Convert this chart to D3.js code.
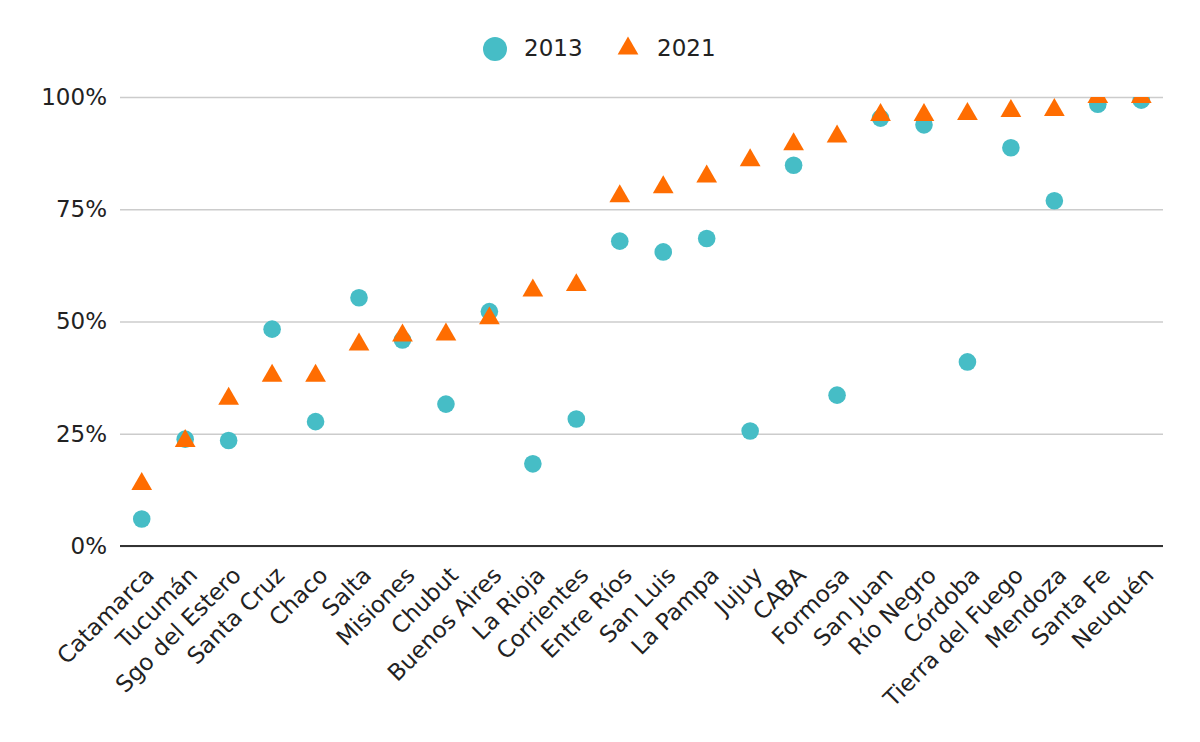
<!DOCTYPE html>
<html>
<head>
<meta charset="utf-8">
<script src="https://cdn.jsdelivr.net/npm/d3@7"></script>
<style>
    body { margin: 0; background: #fff; }
    svg text { font-family: "DejaVu Sans", Verdana, sans-serif; fill: #222; }
</style>
</head>
<body>
<div id="chart"></div>
<script>
const provinces = [
    'Catamarca', 'Tucumán', 'Sgo del Estero', 'Santa Cruz', 'Chaco', 'Salta',
    'Misiones', 'Chubut', 'Buenos Aires', 'La Rioja', 'Corrientes', 'Entre Ríos',
    'San Luis', 'La Pampa', 'Jujuy', 'CABA', 'Formosa', 'San Juan',
    'Río Negro', 'Córdoba', 'Tierra del Fuego', 'Mendoza', 'Santa Fe', 'Neuquén',
];
const values2013 = [
    0.060, 0.238, 0.235, 0.483, 0.277, 0.553,
    0.459, 0.316, 0.522, 0.183, 0.283, 0.679,
    0.655, 0.685, 0.256, 0.848, 0.336, 0.953,
    0.938, 0.410, 0.887, 0.769, 0.984, 0.993,
];
const values2021 = [
    0.138, 0.234, 0.328, 0.379, 0.379, 0.449,
    0.469, 0.471, 0.507, 0.569, 0.581, 0.779,
    0.799, 0.823, 0.859, 0.895, 0.912, 0.960,
    0.960, 0.962, 0.969, 0.971, 1.000, 1.000,
];
const yTicks = [0, 0.25, 0.5, 0.75, 1];
const seriesNames = ['2013', '2021'];

(function () {
    const colours = ['#46BDC6', '#FF6D01'];
    const [width, height] = [1200, 742];
    const [left, right, top, bottom] = [120, 1163, 97, 546];

    const svg = d3.select('#chart')
                  .append('svg')
                  .attr('width', width)
                  .attr('height', height);

    const x = d3.scaleBand()
                .domain(provinces)
                .range([left, right]);
    const y = d3.scaleLinear()
                .domain([0, 1])
                .range([bottom, top]);

    // gridlines + y labels
    const yAxis = svg.append('g')
       .attr('transform', `translate(${left}, 0)`)
       .call(d3.axisLeft(y)
               .tickValues(yTicks)
               .tickFormat(d3.format('.0%'))
               .tickSize(-(right - left))
               .tickPadding(13));
    yAxis.select('.domain').remove();
    yAxis.selectAll('line').attr('stroke', '#ccc').attr('stroke-width', 1.3);
    yAxis.selectAll('text').attr('font-size', 23).attr('fill', '#222');

    // baseline
    svg.append('line')
       .attr('x1', left).attr('x2', right)
       .attr('y1', y(0)).attr('y2', y(0))
       .attr('stroke', '#333')
       .attr('stroke-width', 2);

    // x labels
    svg.append('g')
       .selectAll('text')
       .data(provinces)
       .enter()
       .append('text')
       .attr('transform', d => `translate(${x(d) + x.bandwidth() / 2 + 8}, 571) rotate(-45)`)
       .attr('text-anchor', 'end')
       .attr('dy', '0.35em')
       .attr('font-size', 23)
       .text(d => d);

    svg.append('clipPath')
       .attr('id', 'plotClip')
       .append('rect')
       .attr('x', left).attr('y', top)
       .attr('width', right - left).attr('height', bottom - top);

    const plot = svg.append('g').attr('clip-path', 'url(#plotClip)');
    const cx = d => x(d) + x.bandwidth() / 2;

    plot.selectAll('circle')
        .data(provinces)
        .enter()
        .append('circle')
        .attr('cx', cx)
        .attr('cy', (d, i) => y(values2013[i]))
        .attr('r', 8.8)
        .attr('fill', colours[0]);

    const tri = d3.symbol().type(d3.symbolTriangle).size(186);
    plot.selectAll('path.tri')
        .data(provinces)
        .enter()
        .append('path')
        .attr('class', 'tri')
        .attr('d', tri)
        .attr('transform', (d, i) => `translate(${cx(d)}, ${y(values2021[i])})`)
        .attr('fill', colours[1]);

    // legend
    const legend = svg.append('g');
    legend.append('circle')
          .attr('cx', 495).attr('cy', 49).attr('r', 12)
          .attr('fill', colours[0]);
    legend.append('text')
          .attr('x', 524).attr('y', 48).attr('dy', '0.35em')
          .attr('font-size', 23)
          .text(seriesNames[0]);
    legend.append('path')
          .attr('d', tri)
          .attr('transform', 'translate(628, 48.5)')
          .attr('fill', colours[1]);
    legend.append('text')
          .attr('x', 657).attr('y', 48).attr('dy', '0.35em')
          .attr('font-size', 23)
          .text(seriesNames[1]);
})();
</script>
</body>
</html>
